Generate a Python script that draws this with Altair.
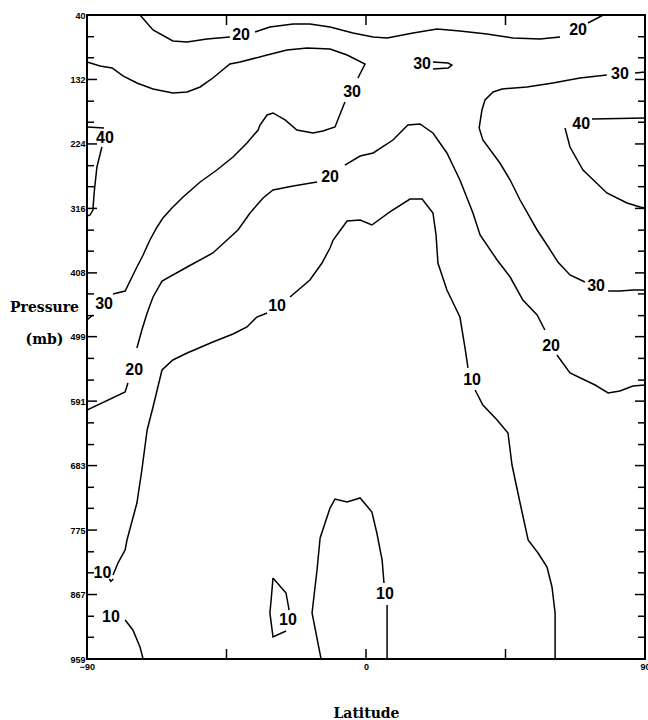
import altair as alt
import pandas as pd

# ---- axis tick values (pressure in mb, latitude in degrees) ----
y_major = [40, 132, 224, 316, 408, 499, 591, 683, 775, 867, 959]
y_minor = [71, 101, 163, 193, 255, 285, 347, 377, 438, 469, 530, 561,
           622, 653, 714, 744, 806, 836, 898, 928]
x_labels = [-90, 0, 90]
x_inner_ticks = [-45, 0, 45]

# ---- contour pieces, (latitude, pressure) ----
c20_top_a = [(-72.9, 40), (-68.7, 61.4), (-62.3, 77.1), (-57.7, 78.5), (-51.3, 74.2), (-43.9, 71.4)]
c20_top_b = [(-35.8, 64.3), (-31.0, 57.1), (-23.5, 52.8), (-18.1, 52.8), (-11.6, 57.1), (-4.2, 65.7),
             (2.3, 71.4), (6.8, 72.8), (15.2, 65.7), (22.9, 60.0), (30.3, 62.8), (39.0, 67.1),
             (47.4, 72.8), (56.1, 74.2), (62.6, 71.4)]
c20_top_c = [(71.6, 51.4), (76.5, 40)]

c30_left_a = [(-90, 107.1), (-85.8, 112.8), (-81.9, 115.6), (-78.4, 127.0), (-73.9, 137.0), (-68.7, 145.6),
              (-62.3, 151.3), (-57.7, 149.9), (-53.5, 142.7), (-49.4, 129.9), (-43.9, 109.9), (-40.6, 107.1),
              (-31.9, 97.1), (-25.5, 90.0), (-19.0, 87.1), (-11.6, 88.5), (-6.1, 97.1), (-0.3, 109.9),
              (-2.6, 129.9)]
c30_left_b = [(-6.8, 164.1), (-10.0, 199.8), (-13.9, 205.5), (-17.1, 208.4), (-22.3, 204.1), (-26.1, 189.8),
              (-30.0, 179.8), (-31.9, 182.7), (-34.2, 197.0), (-34.8, 204.1), (-38.4, 222.7), (-42.9, 242.6),
              (-48.1, 261.2), (-53.5, 278.3), (-59.0, 299.7), (-62.6, 315.4), (-65.5, 329.7), (-67.4, 342.5),
              (-69.7, 361.1), (-71.9, 382.5), (-73.9, 399.6), (-77.7, 433.9), (-81.6, 438.1)]
c30_left_c = [(-88.1, 468.1), (-90, 475.2)]

c40_left_a = [(-90, 199.8), (-84.5, 201.3)]
c40_left_b = [(-85.2, 228.4), (-86.8, 256.9), (-87.7, 294.0), (-88.1, 318.3), (-89.0, 325.4), (-90, 326.8)]

c20_mid_a = [(-90, 603.7), (-77.7, 578.0), (-76.8, 565.1)]
c20_mid_b = [(-73.9, 515.2), (-72.3, 489.5), (-70.6, 465.2), (-68.7, 442.4), (-65.8, 419.6), (-57.7, 399.6),
             (-49.4, 379.6), (-41.3, 346.8), (-37.4, 322.5), (-33.2, 301.1), (-30.0, 289.7), (-23.5, 284.0),
             (-15.8, 278.3)]
c20_mid_c = [(-6.8, 254.1), (-1.9, 241.2), (2.3, 236.9), (8.7, 218.4), (13.5, 197.0), (17.4, 195.5),
             (21.6, 208.4), (26.1, 236.9), (30.3, 275.5), (34.5, 322.5), (36.8, 354.0), (42.3, 389.6),
             (46.5, 413.9), (50.6, 446.7), (55.2, 468.1), (57.7, 489.5)]
c20_mid_d = [(61.6, 525.2), (65.8, 550.9), (73.9, 568.0), (78.1, 579.4), (81.9, 576.6), (86.1, 569.4), (90, 568.0)]

c10_tail = [(-82.8, 844.8), (-82.3, 848.1), (-81.5, 844.8)]
c10_a = [(-81.6, 839.1), (-80.0, 822.0), (-77.7, 803.4), (-77.1, 789.2), (-73.9, 736.4), (-72.3, 689.3),
         (-70.6, 632.2), (-68.7, 599.4), (-65.8, 546.6), (-62.3, 532.3), (-57.7, 522.3), (-49.4, 506.6),
         (-42.9, 495.2), (-38.4, 485.2), (-35.2, 471.0), (-31.9, 465.2)]
c10_b = [(-24.5, 442.4), (-18.1, 418.2), (-14.2, 393.9), (-11.6, 372.5), (-10.6, 361.1), (-6.1, 334.0),
         (-1.9, 332.5), (1.9, 339.7), (7.7, 321.1), (14.2, 302.6), (18.1, 302.6), (21.6, 322.5),
         (22.6, 354.0), (23.2, 393.9), (26.1, 432.4), (30.3, 471.0), (31.9, 513.8), (32.9, 543.7)]
c10_c = [(35.2, 575.1), (37.7, 596.5), (42.3, 617.9), (45.8, 636.5), (47.1, 682.2), (49.7, 736.4),
         (52.3, 789.2), (55.5, 807.7), (58.4, 827.7), (60.0, 856.2), (61.0, 893.3), (61.0, 959)]

c10_sw = [(-77.7, 903.3), (-75.2, 917.6), (-72.9, 941.9), (-71.9, 959)]

c10_blob_a = [(-30.0, 843.4), (-25.8, 864.8), (-24.8, 889.1)]
c10_blob_b = [(-25.8, 919.0), (-30.0, 927.6), (-31.0, 893.3), (-30.6, 874.8), (-30.0, 843.4)]

c10_dome_a = [(-14.5, 959), (-17.4, 893.3), (-15.8, 832.0), (-14.8, 786.3), (-11.6, 743.5), (-10.0, 730.7),
              (-6.1, 735.0), (-1.9, 729.2), (1.9, 749.2), (3.5, 779.2), (5.2, 817.7), (5.8, 850.5)]
c10_dome_b = [(6.8, 882.0), (6.8, 959)]

c30_hook = [(21.6, 107.1), (26.5, 108.5), (27.7, 111.4), (26.5, 115.6), (21.6, 117.1)]

c30_right_a = [(90, 121.3), (86.8, 122.8)]
c30_right_b = [(77.7, 125.6), (69.0, 129.9), (60.3, 137.0), (51.9, 142.7), (43.9, 145.6), (41.0, 149.9),
               (38.4, 161.3), (37.4, 175.6), (36.5, 201.3), (37.7, 218.4), (43.2, 251.2), (46.5, 275.5),
               (49.7, 304.0), (55.2, 346.8), (58.4, 368.2), (61.9, 392.5), (65.8, 411.0), (70.6, 421.0)]
c30_right_c = [(78.1, 433.9), (81.9, 433.9), (86.1, 432.4), (90, 432.4)]

c40_right_a = [(90, 187.0), (72.9, 188.4)]
c40_right_b = [(64.2, 201.3), (65.8, 228.4), (70.0, 261.2), (77.7, 294.0), (84.2, 308.3), (88.4, 314.0), (90, 315.4)]

# ---- contour labels ----
label_text = ["20", "20", "30", "30", "40", "20", "20", "20", "10", "10", "10", "10", "10", "10",
              "30", "30", "30", "40"]
label_lat = [-40.3, 68.4, -4.5, -84.5, -84.2, -74.8, -11.6, 59.7, -85.0, -28.7, 34.2, -82.3, -25.2, 6.1,
             18.1, 81.9, 74.2, 69.4]
label_p = [68.5, 61.4, 149.9, 452.4, 215.5, 546.6, 271.2, 512.3, 835.6, 455.3, 560.9, 899.1, 903.3, 866.2,
           109.9, 124.2, 426.7, 195.5]

pieces = {
    "c20_top_a": c20_top_a, "c20_top_b": c20_top_b, "c20_top_c": c20_top_c,
    "c30_left_a": c30_left_a, "c30_left_b": c30_left_b, "c30_left_c": c30_left_c,
    "c40_left_a": c40_left_a, "c40_left_b": c40_left_b,
    "c20_mid_a": c20_mid_a, "c20_mid_b": c20_mid_b, "c20_mid_c": c20_mid_c, "c20_mid_d": c20_mid_d,
    "c10_tail": c10_tail, "c10_a": c10_a, "c10_b": c10_b, "c10_c": c10_c,
    "c10_sw": c10_sw, "c10_blob_a": c10_blob_a, "c10_blob_b": c10_blob_b,
    "c10_dome_a": c10_dome_a, "c10_dome_b": c10_dome_b,
    "c30_hook": c30_hook,
    "c30_right_a": c30_right_a, "c30_right_b": c30_right_b, "c30_right_c": c30_right_c,
    "c40_right_a": c40_right_a, "c40_right_b": c40_right_b,
}

rows = []
for name, pts in pieces.items():
    for i, (la, pr) in enumerate(pts):
        rows.append({"seg": name, "i": i, "lat": la, "p": pr})
lines_df = pd.DataFrame(rows)
labels_df = pd.DataFrame({"t": label_text, "lat": label_lat, "p": label_p})
ymaj_df = pd.DataFrame({"v": y_major})
ymin_df = pd.DataFrame({"v": y_minor})
xt_df = pd.DataFrame({"v": x_inner_ticks})

W, H = 558, 644
xs = alt.Scale(domain=[-90, 90], nice=False, zero=False)
ys = alt.Scale(domain=[40, 959], nice=False, zero=False, reverse=True)

x_axis = alt.Axis(values=x_labels, format="d", ticks=False, domain=False, grid=False,
                  labelFont="Liberation Sans", labelFontWeight="bold", labelFontSize=9,
                  labelColor="black", labelPadding=3, labelFlush=False, labelOverlap=False,
                  title="Latitude", titleFont="DejaVu Serif", titleFontWeight="bold",
                  titleFontSize=14, titleColor="black", titleBaseline="alphabetic", titleY=58)
y_axis = alt.Axis(values=y_major, format="d", ticks=False, domain=False, grid=False,
                  labelFont="Liberation Sans", labelFontWeight="bold", labelFontSize=9,
                  labelColor="black", labelPadding=2, labelFlush=False, labelOverlap=False,
                  title=["Pressure", "", "(mb)"], titleAngle=0, titleAlign="center",
                  titleBaseline="alphabetic", titleX=-43, titleY=296, titleLineHeight=32.5,
                  titleFont="DejaVu Serif", titleFontWeight="bold", titleFontSize=14,
                  titleColor="black")

X = alt.X("lat:Q", scale=xs, axis=x_axis)
Y = alt.Y("p:Q", scale=ys, axis=y_axis)
YV = alt.Y("v:Q", scale=ys, axis=y_axis)
XV = alt.X("v:Q", scale=xs, axis=x_axis)

lines = alt.Chart(lines_df).mark_line(color="black", strokeWidth=1.5, clip=True).encode(
    x=X, y=Y, detail="seg:N", order="i:Q")
labels = alt.Chart(labels_df).mark_text(font="Liberation Sans", fontSize=16, fontWeight="bold",
                                        color="black", align="center", baseline="middle").encode(
    x=X, y=Y, text="t:N")

tick_style = dict(color="black", strokeWidth=1.5)
lmaj = alt.Chart(ymaj_df).mark_rule(**tick_style).encode(y=YV, x=alt.value(0), x2=alt.value(10))
rmaj = alt.Chart(ymaj_df).mark_rule(**tick_style).encode(y=YV, x=alt.value(W - 10), x2=alt.value(W))
lmin = alt.Chart(ymin_df).mark_rule(**tick_style).encode(y=YV, x=alt.value(0), x2=alt.value(7))
rmin = alt.Chart(ymin_df).mark_rule(**tick_style).encode(y=YV, x=alt.value(W - 7), x2=alt.value(W))
ttop = alt.Chart(xt_df).mark_rule(**tick_style).encode(x=XV, y=alt.value(0), y2=alt.value(10))
tbot = alt.Chart(xt_df).mark_rule(**tick_style).encode(x=XV, y=alt.value(H - 10), y2=alt.value(H))

chart = alt.layer(lines, labels, lmaj, rmaj, lmin, rmin, ttop, tbot).properties(
    width=W, height=H,
    autosize=alt.AutoSizeParams(type="none"),
    padding={"left": 87, "top": 15, "right": 3, "bottom": 61},
    background="white",
).configure_view(stroke="black", strokeWidth=2)

chart.save("out.html", embed_options={"renderer": "svg", "actions": False})
